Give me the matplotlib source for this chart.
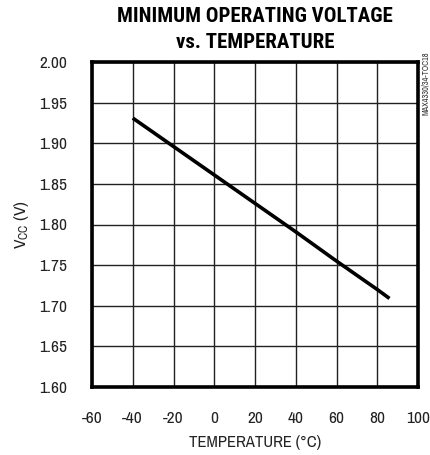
import matplotlib
matplotlib.use("Agg")
import matplotlib.pyplot as plt

# --- data ---
temp_c = [-40, -20, 0, 20, 40, 60, 80, 86]
vcc_min = [1.931, 1.896, 1.861, 1.826, 1.791, 1.755, 1.720, 1.709]

x_ticks = [-60, -40, -20, 0, 20, 40, 60, 80, 100]
y_ticks = [1.60, 1.65, 1.70, 1.75, 1.80, 1.85, 1.90, 1.95, 2.00]

plt.rcParams['font.family'] = ['Archivo Narrow', 'Roboto Condensed', 'DejaVu Sans']
title_font = ['Roboto Condensed', 'Barlow Semi Condensed', 'DejaVu Sans']

fig = plt.figure(figsize=(4.31, 4.55), dpi=100)
ax = fig.add_axes([92 / 431, 68 / 455, 326 / 431, 325 / 455])

ax.plot(temp_c, vcc_min, color='black', linewidth=2.6, solid_capstyle='butt')

ax.set_xlim(-60, 100)
ax.set_ylim(1.60, 2.00)
ax.set_xticks(x_ticks)
ax.set_yticks(y_ticks)
ax.set_xticklabels([str(t) for t in x_ticks])
ax.set_yticklabels([f"{t:.2f}" for t in y_ticks])
ax.tick_params(length=0, labelsize=12.5, labelcolor='#222222')
ax.tick_params(axis='x', pad=17)
ax.tick_params(axis='y', pad=18)
ax.grid(True, color='#222222', linewidth=1.0)

for s in ax.spines.values():
    s.set_linewidth(2.6)
    s.set_color('black')

ax.set_xlabel('TEMPERATURE (°C)', fontsize=12, color='#222222')
ax.set_ylabel(r'$\mathregular{V_{CC}}$ (V)', fontsize=12.5, color='#222222')
ax.xaxis.set_label_coords(0.5, -(443 - 387) / 325)
ax.yaxis.set_label_coords(-(92 - 22) / 326, 0.5)
ax.xaxis.label.set_va('center')
ax.yaxis.label.set_va('center')

fig.text(255 / 431, 1 - 17 / 455, 'MINIMUM OPERATING VOLTAGE', ha='center', va='center',
         fontsize=15, fontweight='bold', family=title_font)
fig.text(255 / 431, 1 - 42 / 455, 'vs. TEMPERATURE', ha='center', va='center',
         fontsize=15, fontweight='bold', family=title_font)

fig.text(426 / 431, 1 - 83 / 455, 'MAX4330/34-TOC18', rotation=90, ha='center', va='center',
         fontsize=6, color='#333333')

fig.savefig('out.png', dpi=100)
